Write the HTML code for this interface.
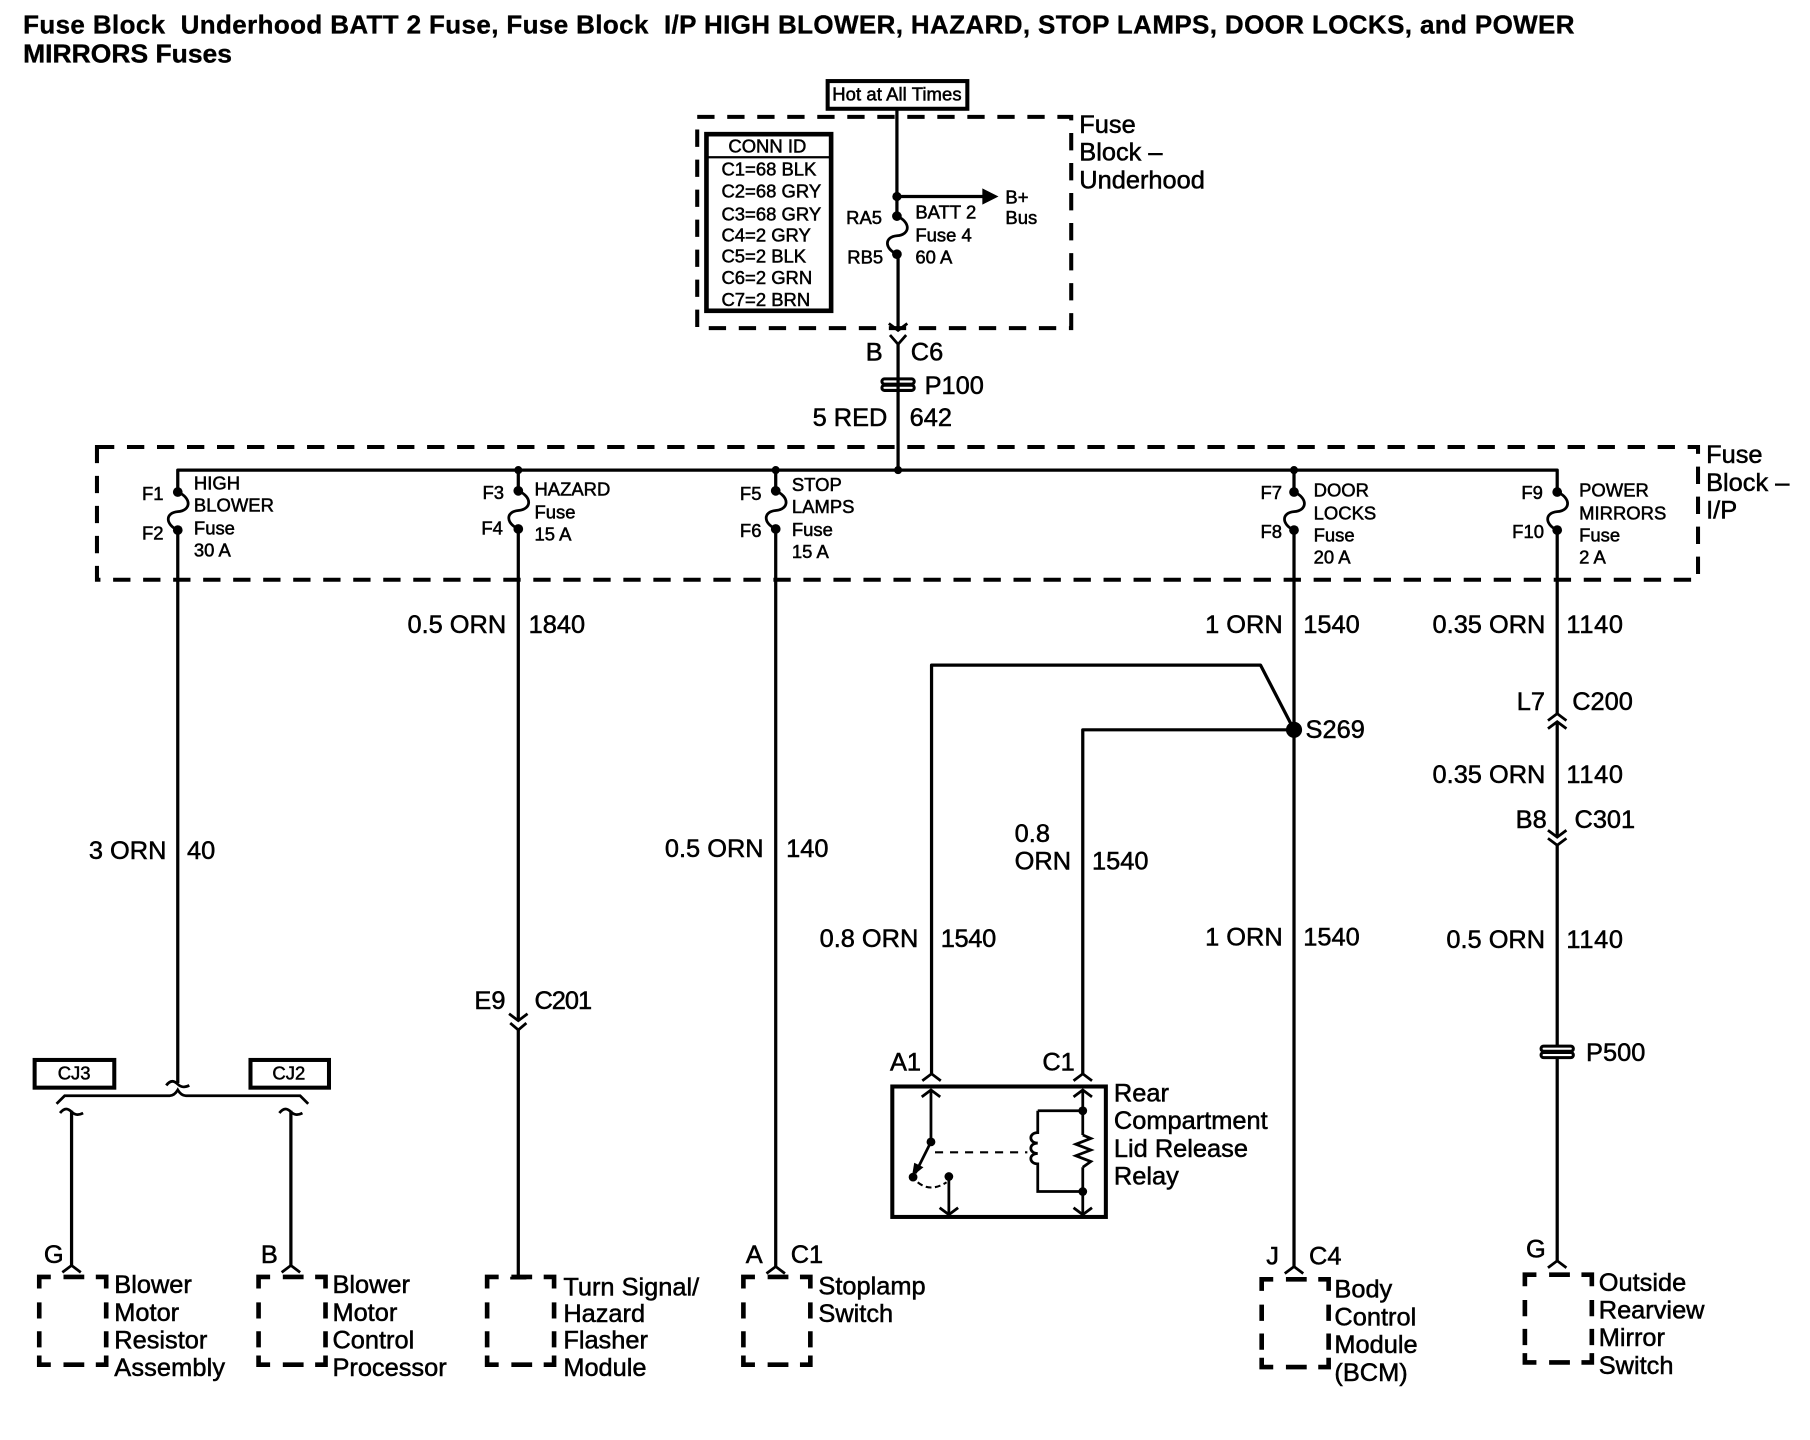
<!DOCTYPE html>
<html><head><meta charset="utf-8"><style>
html,body{margin:0;padding:0;background:#fff}
svg{display:block}
text{font-family:"Liberation Sans",sans-serif;fill:#000;stroke:#000;stroke-width:.45}
.t{font-size:22px}.s{font-size:16px}.b{font-size:22.500px;font-weight:bold;stroke-width:.3}
.w{fill:none;stroke:#000;stroke-width:2.800;stroke-linejoin:round}
.c{fill:none;stroke:#000;stroke-width:2.400}
.d{fill:none;stroke:#000;stroke-width:3.500;stroke-dasharray:15 11}
</style></head><body>
<svg xmlns="http://www.w3.org/2000/svg" width="1810" height="1440" viewBox="0 0 1568 1247">
<defs>
<path id="bx" d="M0,10V0H10M21,0H39M49,0H58V10M58,22V36M58,47V61M58,68V76H49M39,76H21M10,76H0V68M0,61V47M0,36V22" fill="none" stroke="#000" stroke-width="4"/>
<g id="fuse"><circle cx="0" cy="0" r="4.200"/><circle cx="0" cy="33" r="4.200"/><path d="M0,0C12,5 12,16 0,17C-11,18 -11,28 0,33" fill="none" stroke="#000" stroke-width="2.400"/></g>
<path id="up" d="M-8,6L0,0L8,6" fill="none" stroke="#000" stroke-width="2.400"/>
<path id="dn" d="M-8,-6L0,0L8,-6" fill="none" stroke="#000" stroke-width="2.400"/>
<path id="tl" d="M-10,2C-6,-3 -3,-2 0,1C3,4 6,4 10,2" fill="none" stroke="#000" stroke-width="2.400"/>
<g id="pp" fill="none" stroke="#000" stroke-width="2.600"><rect x="-14" y="-5" width="28" height="4.500" rx="2.200"/><rect x="-14" y="0.500" width="28" height="4.500" rx="2.200"/></g>
</defs>

<text class="b" x="20" y="29" xml:space="preserve" textLength="1344" lengthAdjust="spacing">Fuse Block  Underhood BATT 2 Fuse, Fuse Block  I/P HIGH BLOWER, HAZARD, STOP LAMPS, DOOR LOCKS, and POWER</text>
<text class="b" x="20" y="54" textLength="181" lengthAdjust="spacingAndGlyphs">MIRRORS Fuses</text>

<!-- top -->
<rect x="717" y="70" width="121" height="24" fill="none" stroke="#000" stroke-width="3.500"/>
<text class="s" x="721" y="87" textLength="112">Hot at All Times</text>
<rect class="d" x="604" y="101" width="324" height="183"/>
<rect x="612" y="116" width="108" height="153" fill="none" stroke="#000" stroke-width="4"/>
<line x1="612" y1="136" x2="720" y2="136" stroke="#000" stroke-width="2"/>
<text class="s" x="631" y="132">CONN ID</text>
<text class="s" x="625" y="152">C1=68 BLK</text>
<text class="s" x="625" y="171">C2=68 GRY</text>
<text class="s" x="625" y="191">C3=68 GRY</text>
<text class="s" x="625" y="209">C4=2 GRY</text>
<text class="s" x="625" y="227">C5=2 BLK</text>
<text class="s" x="625" y="246">C6=2 GRN</text>
<text class="s" x="625" y="265">C7=2 BRN</text>
<path class="w" d="M777,94V187M778,221V285M777,170H853"/>
<circle cx="777" cy="170" r="4"/>
<polygon points="851,163 865,170 851,177"/>
<use href="#fuse" x="777" y="187"/>
<use href="#dn" x="778" y="286"/>
<path class="c" d="M771,290L778,298L785,290"/>
<path class="w" d="M778,298V407"/>
<text class="s" x="733" y="194">RA5</text>
<text class="s" x="734" y="228">RB5</text>
<text class="s" x="793" y="189">BATT 2</text>
<text class="s" x="793" y="209">Fuse 4</text>
<text class="s" x="793" y="228">60 A</text>
<text class="s" x="871" y="176">B+</text>
<text class="s" x="871" y="194">Bus</text>
<text class="t" x="935" y="115">Fuse</text>
<text class="t" x="935" y="139">Block –</text>
<text class="t" x="935" y="163">Underhood</text>
<text class="t" x="750" y="312">B</text>
<text class="t" x="789" y="312">C6</text>
<use href="#pp" x="778" y="333"/>
<text class="t" x="801" y="341">P100</text>
<text class="t" x="704" y="369">5 RED</text>
<text class="t" x="788" y="369">642</text>

<!-- I/P block -->
<rect class="d" x="84" y="387" width="1387" height="115"/>
<text class="t" x="1478" y="401">Fuse</text>
<text class="t" x="1478" y="425">Block –</text>
<text class="t" x="1478" y="449">I/P</text>
<path class="w" d="M154,427V407H1349V427M449,407V425M672,407V425M1121,407V426"/>
<circle cx="449" cy="407" r="3.500"/><circle cx="672" cy="407" r="3.500"/><circle cx="778" cy="407" r="3.500"/><circle cx="1121" cy="407" r="3.500"/>
<use href="#fuse" x="154" y="426"/>
<use href="#fuse" x="449" y="425"/>
<use href="#fuse" x="672" y="425"/>
<use href="#fuse" x="1121" y="426"/>
<use href="#fuse" x="1349" y="426"/>
<text class="s" x="123" y="433">F1</text><text class="s" x="123" y="467">F2</text>
<text class="s" x="418" y="432">F3</text><text class="s" x="417" y="463">F4</text>
<text class="s" x="641" y="433">F5</text><text class="s" x="641" y="465">F6</text>
<text class="s" x="1092" y="432">F7</text><text class="s" x="1092" y="466">F8</text>
<text class="s" x="1318" y="432">F9</text><text class="s" x="1310" y="466">F10</text>
<text class="s" x="168" y="424">HIGH</text><text class="s" x="168" y="443">BLOWER</text><text class="s" x="168" y="463">Fuse</text><text class="s" x="168" y="482">30 A</text>
<text class="s" x="463" y="429">HAZARD</text><text class="s" x="463" y="449">Fuse</text><text class="s" x="463" y="468">15 A</text>
<text class="s" x="686" y="425">STOP</text><text class="s" x="686" y="444">LAMPS</text><text class="s" x="686" y="464">Fuse</text><text class="s" x="686" y="483">15 A</text>
<text class="s" x="1138" y="430">DOOR</text><text class="s" x="1138" y="450">LOCKS</text><text class="s" x="1138" y="469">Fuse</text><text class="s" x="1138" y="488">20 A</text>
<text class="s" x="1368" y="430">POWER</text><text class="s" x="1368" y="450">MIRRORS</text><text class="s" x="1368" y="469">Fuse</text><text class="s" x="1368" y="488">2 A</text>

<!-- wire 40 -->
<path class="w" d="M154,459V938"/>
<use href="#tl" x="154" y="938"/>
<path class="c" d="M49,956L56,949H147Q151,949 154,944Q157,949 161,949H260L267,956"/>
<rect x="30" y="918" width="69" height="24" fill="none" stroke="#000" stroke-width="3.500"/>
<rect x="217" y="918" width="68" height="24" fill="none" stroke="#000" stroke-width="3.500"/>
<text class="s" x="50" y="935">CJ3</text><text class="s" x="236" y="935">CJ2</text>
<use href="#tl" x="62" y="962"/><use href="#tl" x="252" y="962"/>
<path class="w" d="M62,962V1096M252,962V1096"/>
<use href="#up" x="62" y="1096"/><use href="#up" x="252" y="1096"/>
<use href="#bx" x="34" y="1106"/><use href="#bx" x="224" y="1106"/>
<text class="t" x="38" y="1094">G</text><text class="t" x="226" y="1094">B</text>
<text class="t" x="99" y="1120">Blower</text><text class="t" x="99" y="1144">Motor</text><text class="t" x="99" y="1168">Resistor</text><text class="t" x="99" y="1192" textLength="96">Assembly</text>
<text class="t" x="288" y="1120">Blower</text><text class="t" x="288" y="1144">Motor</text><text class="t" x="288" y="1168">Control</text><text class="t" x="288" y="1192">Processor</text>
<text class="t" x="77" y="744">3 ORN</text><text class="t" x="162" y="744">40</text>

<!-- wire 1840 -->
<path class="w" d="M449,458V884M449,892V1106"/>
<use href="#dn" x="449" y="884"/>
<path class="c" d="M442,886L449,892L456,886"/>
<path d="M442,1107H456" stroke="#000" stroke-width="2.400"/>
<text class="t" x="353" y="548">0.5 ORN</text><text class="t" x="458" y="548">1840</text>
<text class="t" x="411" y="874">E9</text><text class="t" x="463" y="874" textLength="50">C201</text>
<use href="#bx" x="422" y="1106"/>
<text class="t" x="488" y="1122">Turn Signal/</text><text class="t" x="488" y="1145">Hazard</text><text class="t" x="488" y="1168">Flasher</text><text class="t" x="488" y="1192">Module</text>

<!-- wire 140 -->
<path class="w" d="M672,458V1097"/>
<use href="#up" x="672" y="1097"/>
<use href="#bx" x="644" y="1106"/>
<text class="t" x="576" y="742">0.5 ORN</text><text class="t" x="681" y="742">140</text>
<text class="t" x="646" y="1094">A</text><text class="t" x="685" y="1094">C1</text>
<text class="t" x="709" y="1121">Stoplamp</text><text class="t" x="709" y="1145">Switch</text>

<!-- wire 1540 -->
<path class="w" d="M1121,459V1097"/>
<circle cx="1121" cy="632" r="7"/>
<path class="w" d="M1121,632L1092,576H807V930M1121,632H938V930"/>
<use href="#up" x="807" y="930"/><use href="#up" x="938" y="930"/>
<text class="t" x="1044" y="548">1 ORN</text><text class="t" x="1129" y="548">1540</text>
<text class="t" x="1131" y="639">S269</text>
<text class="t" x="710" y="820">0.8 ORN</text><text class="t" x="815" y="820" textLength="48">1540</text>
<text class="t" x="879" y="729">0.8</text><text class="t" x="879" y="753">ORN</text><text class="t" x="946" y="753">1540</text>
<text class="t" x="1044" y="819">1 ORN</text><text class="t" x="1129" y="819">1540</text>
<text class="t" x="771" y="927">A1</text><text class="t" x="903" y="927">C1</text>
<use href="#up" x="1121" y="1097"/>
<use href="#bx" x="1093" y="1108"/>
<text class="t" x="1097" y="1095">J</text><text class="t" x="1134" y="1095">C4</text>
<text class="t" x="1156" y="1124">Body</text><text class="t" x="1156" y="1148">Control</text><text class="t" x="1156" y="1172">Module</text><text class="t" x="1156" y="1196">(BCM)</text>

<!-- relay -->
<rect x="773" y="941" width="185" height="113" fill="none" stroke="#000" stroke-width="3.500"/>
<path class="c" d="M806.500,944V989M938,944V983M938,1011V1052M822,1019V1052M899,962H938M899,962V981c-8,0 -8,9 0,9c-8,0 -8,9 0,9c-8,0 -8,9 0,9V1032H938"/>
<path class="c" d="M938,983l7,3l-13,5l13,5l-13,5l13,5l-7,5"/>
<use href="#up" x="806.500" y="944"/><use href="#up" x="938" y="944"/>
<use href="#dn" x="822" y="1052"/><use href="#dn" x="938" y="1052"/>
<circle cx="806.500" cy="989" r="3.800"/><circle cx="791" cy="1019.500" r="3.800"/><circle cx="822" cy="1019" r="3.800"/>
<circle cx="938" cy="962" r="3.800"/><circle cx="938" cy="1032" r="3.800"/>
<path class="c" d="M806,990L793,1016"/>
<polygon points="790,1019 792,1007 800,1011"/>
<path d="M810,998H890" fill="none" stroke="#000" stroke-width="1.800" stroke-dasharray="7 6"/>
<path d="M795,1024Q806,1033 820,1024" fill="none" stroke="#000" stroke-width="1.800" stroke-dasharray="5 3"/>
<text class="t" x="965" y="954">Rear</text><text class="t" x="965" y="978">Compartment</text><text class="t" x="965" y="1002">Lid Release</text><text class="t" x="965" y="1026">Relay</text>

<!-- wire 1140 -->
<path class="w" d="M1349,459V618M1349,625V725M1349,732V906M1349,916V1092"/>
<use href="#up" x="1349" y="618"/><use href="#up" x="1349" y="625"/>
<use href="#dn" x="1349" y="725"/><use href="#dn" x="1349" y="732"/>
<use href="#pp" x="1349" y="911"/>
<use href="#up" x="1349" y="1092"/>
<use href="#bx" x="1321" y="1104"/>
<text class="t" x="1241" y="548">0.35 ORN</text><text class="t" x="1357" y="548" textLength="49">1140</text>
<text class="t" x="1314" y="615">L7</text><text class="t" x="1362" y="615">C200</text>
<text class="t" x="1241" y="678">0.35 ORN</text><text class="t" x="1357" y="678" textLength="49">1140</text>
<text class="t" x="1313" y="717">B8</text><text class="t" x="1364" y="717">C301</text>
<text class="t" x="1253" y="821">0.5 ORN</text><text class="t" x="1357" y="821" textLength="49">1140</text>
<text class="t" x="1374" y="919">P500</text>
<text class="t" x="1322" y="1089">G</text>
<text class="t" x="1385" y="1118">Outside</text><text class="t" x="1385" y="1142">Rearview</text><text class="t" x="1385" y="1166">Mirror</text><text class="t" x="1385" y="1190">Switch</text>
</svg>
</body></html>
